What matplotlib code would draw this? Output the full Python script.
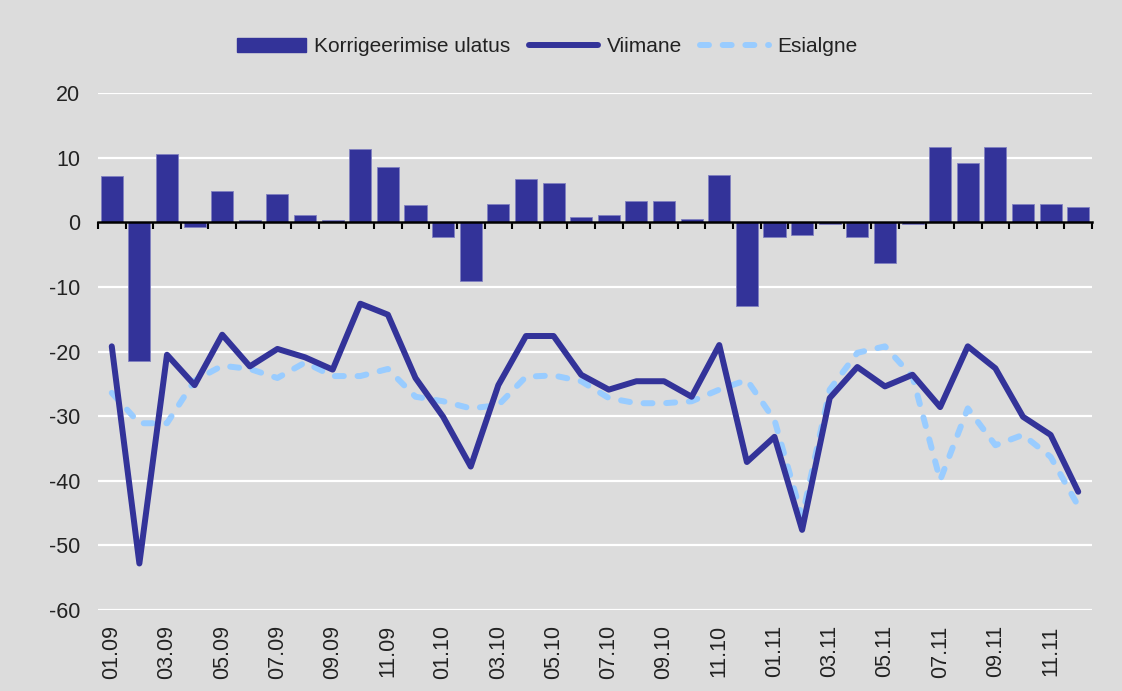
import numpy as np
import matplotlib
matplotlib.use("Agg")
import matplotlib.pyplot as plt
from matplotlib.lines import Line2D
from matplotlib.patches import Patch

# monthly labels 01.09 .. 12.11
months = [f"{m:02d}.{y:02d}" for y in (9, 10, 11) for m in range(1, 13)]

korrigeerimine = [7.2, -21.5, 10.6, -0.8, 4.8, 0.4, 4.4, 1.1, 0.4, 11.3, 8.5, 2.6,
                  -2.3, -9.1, 2.9, 6.7, 6.0, 0.8, 1.1, 3.3, 3.3, 0.5, 7.3, -12.9,
                  -2.3, -2.0, -0.3, -2.3, -6.3, -0.3, 11.6, 9.1, 11.6, 2.9, 2.9, 2.4]
viimane = [-19.2, -52.8, -20.5, -25.2, -17.4, -22.3, -19.6, -20.9, -22.8, -12.6, -14.3, -24.1,
           -30.1, -37.8, -25.2, -17.6, -17.6, -23.6, -25.9, -24.6, -24.6, -27.0, -19.0, -37.1,
           -33.2, -47.6, -27.2, -22.4, -25.4, -23.6, -28.6, -19.2, -22.6, -30.1, -32.9, -41.7]
esialgne = [-26.4, -31.1, -31.1, -24.5, -22.2, -22.7, -24.1, -21.7, -23.8, -23.8, -22.7, -27.0,
            -27.7, -28.8, -28.3, -23.9, -23.7, -24.6, -27.2, -28.0, -28.0, -27.7, -25.9, -24.4,
            -30.6, -45.6, -25.9, -20.2, -19.2, -23.9, -39.9, -28.8, -34.5, -32.9, -36.3, -43.9]

bg = "#dcdcdc"
dark = "#333399"
light = "#99ccff"
txt = "#222222"

plt.rcParams["font.family"] = ["Liberation Sans", "DejaVu Sans"]
plt.rcParams["axes.unicode_minus"] = False

fig = plt.figure(figsize=(11.22, 6.91), dpi=100, facecolor=bg)
ax = fig.add_axes([0.0873, 0.1172, 0.886, 0.7482], facecolor=bg)

x = np.arange(len(months))
ax.bar(x, korrigeerimine, width=0.8, color=dark, edgecolor="#8080c0", linewidth=0.6, zorder=2)
ax.plot(x, viimane, color=dark, lw=4.3, solid_capstyle="round", solid_joinstyle="round", zorder=4)
ax.plot(x, esialgne, color=light, lw=4.3, dashes=(1.5, 2.3), dash_capstyle="round", zorder=3)

ax.set_xlim(-0.5, len(months) - 0.5)
ax.set_ylim(-60, 20)
ax.set_yticks(range(-60, 21, 10))
ax.yaxis.grid(True, color="white", lw=1.6, zorder=0)
ax.set_axisbelow(True)
ax.tick_params(axis="y", length=0, pad=13, labelsize=15.5, colors=txt)

for s in ("top", "right", "left"):
    ax.spines[s].set_visible(False)
ax.spines["bottom"].set_position(("data", 0))
ax.spines["bottom"].set_linewidth(1.8)
ax.spines["bottom"].set_zorder(5)
ax.set_xticks(np.arange(len(months) + 1) - 0.5)
ax.tick_params(axis="x", direction="out", length=5, width=1.5, labelbottom=False)

sec = ax.secondary_xaxis("bottom")
sec.set_xticks(x[::2], months[::2], rotation=90)
sec.tick_params(length=0, pad=11, labelsize=15.5, colors=txt)
sec.spines["bottom"].set_visible(False)

handles = [
    Patch(facecolor=dark, edgecolor=dark),
    Line2D([], [], color=dark, lw=4.3, solid_capstyle="round"),
    Line2D([], [], color=light, lw=4.3, dashes=(1.5, 2.3), dash_capstyle="round"),
]
leg = fig.legend(handles, ["Korrigeerimise ulatus", "Viimane", "Esialgne"],
                 loc="center", bbox_to_anchor=(0.488, 0.932), ncol=3, frameon=False,
                 fontsize=15, handlelength=3.3, handleheight=0.67, handletextpad=0.4,
                 columnspacing=0.9)
for t in leg.get_texts():
    t.set_color(txt)

fig.savefig("out.png", dpi=100, facecolor=bg)
